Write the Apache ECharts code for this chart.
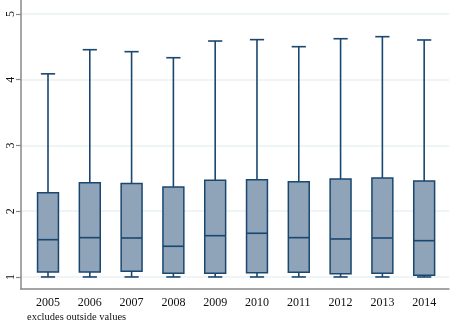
<!DOCTYPE html>
<html>
<head>
<meta charset="utf-8">
<script src="https://cdn.jsdelivr.net/npm/echarts@6/dist/echarts.min.js"></script>
<style>html,body{margin:0;padding:0;background:#fff;}#c{width:454px;height:321px;}</style>
</head>
<body>
<div id="c"></div>
<script>
const years = ['2005','2006','2007','2008','2009','2010','2011','2012','2013','2014'];
const lowerWhisker = [1.0, 1.0, 1.0, 1.0, 1.0, 1.0, 1.0, 1.0, 1.0, 1.0];
const q1 = [1.076, 1.076, 1.087, 1.056, 1.056, 1.066, 1.07, 1.05, 1.056, 1.026];
const median = [1.567, 1.598, 1.593, 1.467, 1.628, 1.665, 1.598, 1.578, 1.593, 1.552];
const q3 = [2.28, 2.434, 2.42, 2.37, 2.47, 2.48, 2.45, 2.49, 2.506, 2.46];
const upperWhisker = [4.09, 4.457, 4.427, 4.335, 4.589, 4.61, 4.503, 4.624, 4.655, 4.605];
const yTicks = [1, 2, 3, 4, 5];
const note = 'excludes outside values';

const data = years.map((y, i) => [i, lowerWhisker[i], q1[i], median[i], q3[i], upperWhisker[i]]);
const FONT = '"Liberation Serif", "DejaVu Serif", serif';
const NAVY = '#1a476f';

const chart = echarts.init(document.getElementById('c'), null, {renderer: 'canvas'});
chart.setOption({
  animation: false,
  backgroundColor: '#fff',
  title: {
    text: note, left: 22, top: 307,
    textStyle: {fontFamily: FONT, fontSize: 10.5, fontWeight: 'normal', color: '#111'}
  },
  grid: {left: 21, right: 5, top: 0, bottom: 32},
  xAxis: {
    type: 'value', min: -0.646, max: 9.594,
    splitLine: {show: false},
    axisLine: {show: true, onZero: false, lineStyle: {color: '#888', width: 1.5}},
    axisTick: {show: false},
    axisLabel: {
      customValues: years.map((y, i) => i),
      formatter: v => years[Math.round(v)],
      fontFamily: FONT, fontSize: 12, color: '#111', margin: 8
    }
  },
  yAxis: {
    type: 'value', min: 0.817, max: 5.213,
    axisLine: {show: true, onZero: false, lineStyle: {color: '#888', width: 1.5}},
    axisTick: {show: true, length: 5, customValues: yTicks, lineStyle: {color: '#888', width: 1.2}},
    splitLine: {show: true, lineStyle: {color: '#eaf2f3', width: 1.5}},
    axisLabel: {
      customValues: yTicks, rotate: 90, margin: 4,
      fontFamily: FONT, fontSize: 12, color: '#111'
    }
  },
  series: [{
    type: 'custom',
    data: data,
    encode: {x: 0, y: [1, 2, 3, 4, 5]},
    renderItem: function (params, api) {
      const i = api.value(0);
      const pMin = api.coord([i, api.value(1)]);
      const pQ1 = api.coord([i, api.value(2)]);
      const pMed = api.coord([i, api.value(3)]);
      const pQ3 = api.coord([i, api.value(4)]);
      const pMax = api.coord([i, api.value(5)]);
      const bw = api.size([1, 0])[0];
      const hw = bw * 0.25;
      const cw = bw * 0.17;
      const x = pQ1[0];
      const ls = {stroke: NAVY, lineWidth: 1.6};
      return {
        type: 'group',
        children: [
          {type: 'line', shape: {x1: x, y1: pQ3[1], x2: x, y2: pMax[1]}, style: ls},
          {type: 'line', shape: {x1: x - cw, y1: pMax[1], x2: x + cw, y2: pMax[1]}, style: ls},
          {type: 'line', shape: {x1: x, y1: pQ1[1], x2: x, y2: pMin[1]}, style: ls},
          {type: 'line', shape: {x1: x - cw, y1: pMin[1], x2: x + cw, y2: pMin[1]}, style: ls},
          {type: 'rect', shape: {x: x - hw, y: pQ3[1], width: hw * 2, height: pQ1[1] - pQ3[1]},
            style: {fill: '#8fa3b9', stroke: NAVY, lineWidth: 1.5}},
          {type: 'line', shape: {x1: x - hw, y1: pMed[1], x2: x + hw, y2: pMed[1]}, style: ls}
        ]
      };
    }
  }]
});
</script>
</body>
</html>
